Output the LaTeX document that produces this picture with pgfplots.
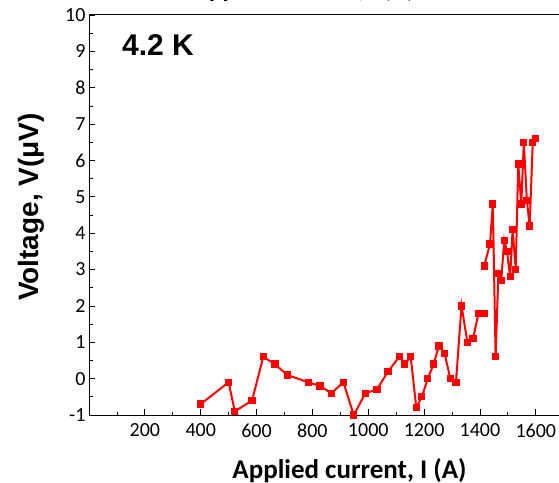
\documentclass[border=0pt]{standalone}
\usepackage{fontspec}
\setmainfont{Carlito}
\newfontfamily\arialfont{Liberation Sans}
\usepackage{pgfplots}
\pgfplotsset{compat=1.18}
\begin{document}
\begin{tikzpicture}
\begin{axis}[
  scale only axis, width=470bp, height=400bp,
  xmin=0, xmax=1683, ymin=-1, ymax=10,
  axis y line*=left, axis x line*=box,
  xtick pos=bottom, ytick pos=left,
  tick align=inside,
  xtick={200,400,...,1600},
  minor xtick={100,300,...,1700},
  ytick={-1,0,...,10},
  minor ytick={-0.5,0.5,...,9.5},
  major tick length=6bp, minor tick length=3.5bp,
  tick style={black, line width=0.8bp},
  axis line style={black, line width=1bp},
  /pgf/number format/assume math mode=true,
  /pgf/number format/1000 sep={},
  ticklabel style={font=\fontsize{20bp}{24bp}\selectfont},
  xticklabel style={yshift=-5bp},
  unbounded coords=jump,
  clip=false,
]
\addplot[red, line width=2bp, mark=square*, mark size=2.6bp, mark options={solid}] coordinates {
(400,-0.7) (500,-0.1) (522,-0.9) (584,-0.6) (624,0.6) (666,0.4) (710,0.1)
(785,-0.1) (827,-0.2) (868,-0.4) (911,-0.1) (948,-1.0) (990,-0.4) (1031,-0.3)
(1071,0.2) (1111,0.6) (1131,0.4) (1152,0.6) (1172,-0.8) (1192,-0.5) (1213,0.0)
(1234,0.4) (1253,0.9) (1273,0.7) (1294,0.0) (1314,-0.1) (1334,2.0) (1355,1.0)
(1375,1.1) (1395,1.8) (1415,1.8) (1415,nan)
(1415,3.1) (1436,3.7) (1446,4.8) (1456,0.6) (1466,2.9) (1476,2.7) (1487,3.8)
(1497,3.5) (1508,2.8) (1517,4.1) (1528,3.0) (1537,5.9) (1548,4.8) (1557,6.5)
(1568,4.9) (1578,4.2) (1589,6.5) (1599,6.6)
};
\end{axis}
\node[anchor=base west, inner sep=0pt, font=\fontsize{30bp}{34bp}\selectfont\arialfont\bfseries] at (33bp,359bp) {4.2 K};
\node[anchor=base, inner sep=0pt, font=\fontsize{28bp}{32bp}\selectfont\arialfont\bfseries, rotate=90] at (-50bp,208bp) {Voltage, V(μV)};
\node[anchor=base, inner sep=0pt, font=\fontsize{27bp}{31bp}\selectfont\bfseries] at (260.5bp,-63bp) {Applied current, I (A)};
\node[anchor=base, inner sep=0pt, font=\fontsize{25.5bp}{29bp}\selectfont\bfseries] at (215bp,417bp) {Applied current, I (A)};
\pgfresetboundingbox
\path[use as bounding box] (-89bp,-68bp) rectangle (470bp,415bp);
\end{tikzpicture}
\end{document}
